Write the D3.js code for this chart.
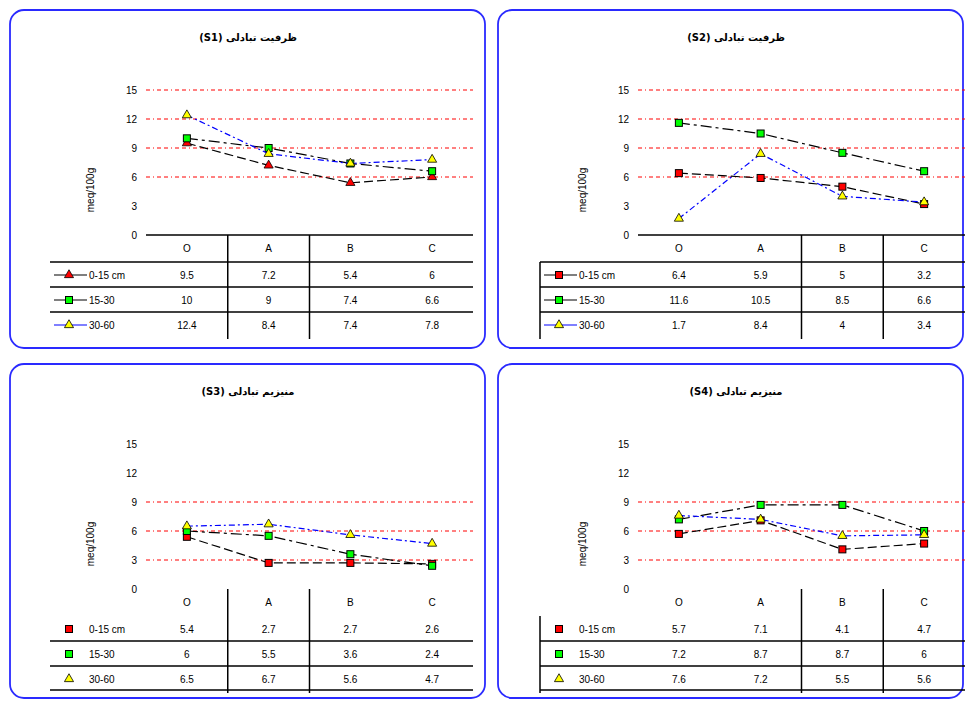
<!DOCTYPE html>
<html>
<head>
<meta charset="utf-8">
<script src="https://cdn.jsdelivr.net/npm/d3@7"></script>
<style>
  body { margin: 0; background: #fff; }
  svg { display: block; font-family: "Liberation Sans", Arial, sans-serif; }
</style>
</head>
<body>
<svg id="chart" width="965" height="701"></svg>
<script>
// data
var categories = ["O", "A", "B", "C"];
var depths = ["0-15 cm", "15-30", "30-60"];
var yTicks = [0, 3, 6, 9, 12, 15];

var titles = ["ظرفیت تبادلی (S1)", "ظرفیت تبادلی (S2)", "منیزیم تبادلی (S3)", "منیزیم تبادلی (S4)"];

var s1_d1 = [9.5, 7.2, 5.4, 6];
var s1_d2 = [10, 9, 7.4, 6.6];
var s1_d3 = [12.4, 8.4, 7.4, 7.8];

var s2_d1 = [6.4, 5.9, 5, 3.2];
var s2_d2 = [11.6, 10.5, 8.5, 6.6];
var s2_d3 = [1.7, 8.4, 4, 3.4];

var s3_d1 = [5.4, 2.7, 2.7, 2.6];
var s3_d2 = [6, 5.5, 3.6, 2.4];
var s3_d3 = [6.5, 6.7, 5.6, 4.7];

var s4_d1 = [5.7, 7.1, 4.1, 4.7];
var s4_d2 = [7.2, 8.7, 8.7, 6];
var s4_d3 = [7.6, 7.2, 5.5, 5.6];

var gridTop = [6, 9, 12, 15];
var gridBottom = [3, 6, 9];

var svg = d3.select("#chart");

var lineColors = ["#000", "#000", "#0000ff"];
var lineDash = ["9,4", "11,4,3,4", "6,3,2,3"];
var markerFill = ["#ff0000", "#00ff00", "#ffff00"];

// per panel layout
var panels = [
  {x0: 10, y0: 10, w: 475, h: 338, plotLeft: 146, tableLeft: 50, marker0: "triangle",
   series: [s1_d1, s1_d2, s1_d3], grid: gridTop, axisLine: true, legendLines: true,
   hLines: [0, 1, 2], vLines: [0, 1], leftLine: false},
  {x0: 498, y0: 10, w: 465, h: 338, plotLeft: 638, tableLeft: 540, marker0: "square",
   series: [s2_d1, s2_d2, s2_d3], grid: gridTop, axisLine: true, legendLines: true,
   hLines: [0, 1, 2], vLines: [1, 2], leftLine: true},
  {x0: 10, y0: 364, w: 475, h: 334, plotLeft: 146, tableLeft: 50, marker0: "square",
   series: [s3_d1, s3_d2, s3_d3], grid: gridBottom, axisLine: false, legendLines: false,
   hLines: [1, 2, 3], vLines: [0, 1], leftLine: false},
  {x0: 498, y0: 364, w: 465, h: 334, plotLeft: 638, tableLeft: 540, marker0: "square",
   series: [s4_d1, s4_d2, s4_d3], grid: gridBottom, axisLine: false, legendLines: false,
   hLines: [1, 2, 3], vLines: [1, 2], leftLine: true}
];

function drawMarker(g, shape, cx, cy, fill) {
  if (shape === "triangle") {
    g.append("path")
      .attr("d", d3.symbol().type(d3.symbolTriangle).size(36)())
      .attr("transform", "translate(" + cx + "," + cy + ")")
      .attr("fill", fill)
      .attr("stroke", "#000")
      .attr("stroke-width", 0.8);
  } else {
    g.append("rect")
      .attr("x", cx - 3.5).attr("y", cy - 3.5)
      .attr("width", 7).attr("height", 7)
      .attr("fill", fill)
      .attr("stroke", "#000")
      .attr("stroke-width", 1);
  }
}

panels.forEach(function(p, pi) {
  var g = svg.append("g");
  var plotW = 327;
  var rowTop = p.y0 + 252, rowH = 25;

  // panel frame
  g.append("rect")
    .attr("x", p.x0).attr("y", p.y0)
    .attr("width", p.w).attr("height", p.h)
    .attr("rx", 14).attr("ry", 14)
    .attr("fill", "none")
    .attr("stroke", "#2a2aff")
    .attr("stroke-width", 1.8);

  g.append("text")
    .attr("x", p.x0 + 238).attr("y", p.y0 + 31)
    .attr("text-anchor", "middle")
    .attr("direction", "rtl")
    .style("font-family", "'DejaVu Sans', sans-serif")
    .style("font-size", "10px")
    .style("font-weight", "bold")
    .text(titles[pi]);

  var x = d3.scaleBand()
    .domain(categories)
    .range([p.plotLeft, p.plotLeft + plotW]);

  var y = d3.scaleLinear()
    .domain([0, 15])
    .range([p.y0 + 225, p.y0 + 80]);

  // gridlines
  g.selectAll(".grid")
    .data(p.grid)
    .enter()
    .append("line")
      .attr("x1", p.plotLeft)
      .attr("x2", p.plotLeft + plotW)
      .attr("y1", function(d) {return y(d);})
      .attr("y2", function(d) {return y(d);})
      .attr("stroke", "#ff0000")
      .attr("stroke-width", 1)
      .attr("stroke-dasharray", "4,3,1,3,4,3");

  // y tick labels
  g.selectAll(".ytick")
    .data(yTicks)
    .enter()
    .append("text")
      .attr("x", p.plotLeft - 9)
      .attr("y", function(d) {return y(d) + 4;})
      .attr("text-anchor", "end")
      .style("font-size", "10px")
      .text(function(d) {return d;});

  g.append("text")
    .attr("transform", "translate(" + (p.plotLeft - 52) + "," + (p.y0 + 180) + ") rotate(-90)")
    .attr("text-anchor", "middle")
    .style("font-size", "10px")
    .text("meq/100g");

  if (p.axisLine) {
    g.append("line")
      .attr("x1", p.plotLeft).attr("x2", p.plotLeft + plotW)
      .attr("y1", y(0)).attr("y2", y(0))
      .attr("stroke", "#000").attr("stroke-width", 1.5);
  }

  // category headers
  g.selectAll(".cat")
    .data(categories)
    .enter()
    .append("text")
      .attr("x", function(d) {return x(d) + x.bandwidth() / 2;})
      .attr("y", p.y0 + 242)
      .attr("text-anchor", "middle")
      .style("font-size", "10px")
      .text(function(d) {return d;});

  // table lines
  p.hLines.forEach(function(i) {
    g.append("line")
      .attr("x1", p.tableLeft).attr("x2", p.plotLeft + plotW)
      .attr("y1", rowTop + i * rowH + (i === 3 ? -1 : 0))
      .attr("y2", rowTop + i * rowH + (i === 3 ? -1 : 0))
      .attr("stroke", "#000").attr("stroke-width", 1.5);
  });
  p.vLines.forEach(function(i) {
    var vx = x(categories[i + 1]);
    g.append("line")
      .attr("x1", vx).attr("x2", vx)
      .attr("y1", y(0)).attr("y2", rowTop + 3 * rowH + 2)
      .attr("stroke", "#000").attr("stroke-width", 1.5);
  });
  if (p.leftLine) {
    g.append("line")
      .attr("x1", p.tableLeft).attr("x2", p.tableLeft)
      .attr("y1", rowTop).attr("y2", rowTop + 3 * rowH + 2)
      .attr("stroke", "#000").attr("stroke-width", 1.5);
  }

  // series lines, markers and table rows
  p.series.forEach(function(vals, si) {
    var pts = vals.map(function(v, i) {return [x(categories[i]) + x.bandwidth() / 2, y(v)];});
    g.append("path")
      .attr("d", d3.line()(pts))
      .attr("fill", "none")
      .attr("stroke", lineColors[si])
      .attr("stroke-width", 1.2)
      .attr("stroke-dasharray", lineDash[si]);

    var shape = si === 0 ? p.marker0 : (si === 1 ? "square" : "triangle");
    pts.forEach(function(pt) {drawMarker(g, shape, pt[0], pt[1], markerFill[si]);});

    var ry = rowTop + si * rowH + 14;
    if (p.legendLines) {
      g.append("line")
        .attr("x1", p.tableLeft + 4).attr("x2", p.tableLeft + 37)
        .attr("y1", ry - 1).attr("y2", ry - 1)
        .attr("stroke", lineColors[si]).attr("stroke-width", 1.2);
    }
    drawMarker(g, shape, p.tableLeft + 19, ry - 1, markerFill[si]);
    g.append("text")
      .attr("x", p.tableLeft + 39)
      .attr("y", ry + 3)
      .style("font-size", "10px")
      .text(depths[si]);

    g.selectAll(".val" + si)
      .data(vals)
      .enter()
      .append("text")
        .attr("x", function(d, i) {return x(categories[i]) + x.bandwidth() / 2;})
        .attr("y", ry + 3)
        .attr("text-anchor", "middle")
        .style("font-size", "10px")
        .text(function(d) {return d;});
  });
});
</script>
</body>
</html>
